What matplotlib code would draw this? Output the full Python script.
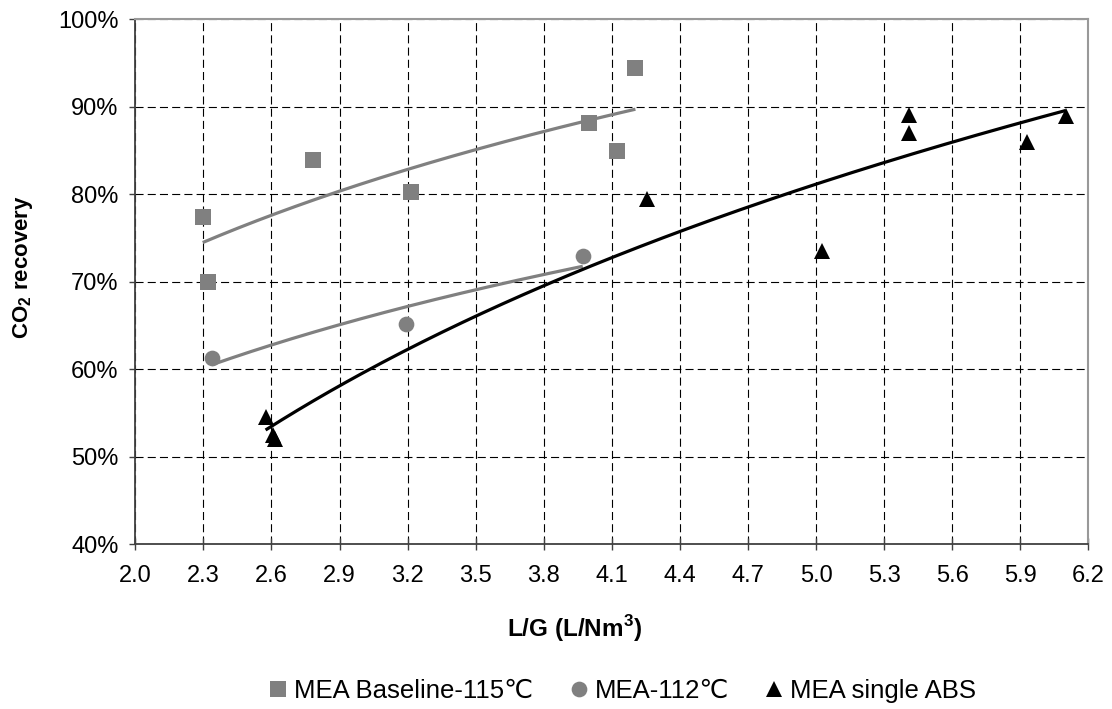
import numpy as np
import matplotlib
matplotlib.use("Agg")
import matplotlib.pyplot as plt
from matplotlib.lines import Line2D

plt.rcParams['font.family'] = ['Liberation Sans', 'DejaVu Sans']
plt.rcParams['mathtext.fontset'] = 'custom'
plt.rcParams['mathtext.rm'] = 'Liberation Sans'
plt.rcParams['mathtext.bf'] = 'Liberation Sans:bold'
plt.rcParams['lines.scale_dashes'] = False

# ---- data (L/G, CO2 recovery %) ----
base_x = [2.297, 2.322, 2.782, 3.216, 3.999, 4.124, 4.204]
base_y = [77.4, 70.0, 83.9, 80.2, 88.1, 84.9, 94.4]

mea112_x = [2.337, 3.193, 3.972]
mea112_y = [61.3, 65.2, 72.9]

single_x = [2.574, 2.605, 2.615, 4.257, 5.028, 5.409, 5.409, 5.928, 6.100]
single_y = [54.5, 52.5, 52.0, 79.5, 73.5, 89.05, 87.0, 86.0, 88.9]

labels = ['MEA Baseline-115℃', 'MEA-112℃', 'MEA single ABS']
x_ticks = [2.0, 2.3, 2.6, 2.9, 3.2, 3.5, 3.8, 4.1, 4.4, 4.7, 5.0, 5.3, 5.6, 5.9, 6.2]
y_ticks = [40, 50, 60, 70, 80, 90, 100]

grey = '#808080'

fig = plt.figure(figsize=(11.12, 7.09), dpi=100)
ax = fig.add_axes([0.1217, 0.2324, 0.857, 0.7405])


def log_trend(xs, ys):
    xs = np.asarray(xs, float)
    ys = np.asarray(ys, float)
    a, b = np.polyfit(np.log(xs), ys, 1)
    xx = np.linspace(xs.min(), xs.max(), 200)
    return xx, a * np.log(xx) + b


series = [
    (base_x, base_y, 's', grey, grey),
    (mea112_x, mea112_y, 'o', grey, grey),
    (single_x, single_y, '^', 'black', 'black'),
]

for xs, ys, m, mc, lc in series:
    xx, yy = log_trend(xs, ys)
    ax.plot(xx, yy, color=lc, lw=2.3, zorder=3, solid_capstyle='butt')

for xs, ys, m, mc, lc in series:
    ax.plot(xs, ys, linestyle='none', marker=m, ms=11.3, color=mc,
            markeredgewidth=0, zorder=4, clip_on=False)

ax.set_xlim(2.0, 6.2)
ax.set_ylim(40, 100)
ax.set_xticks(x_ticks)
ax.set_xticklabels([f'{v:.1f}' for v in x_ticks])
ax.set_yticks(y_ticks)
ax.set_yticklabels([f'{v}%' for v in y_ticks])

ax.grid(True, color='black', lw=0.8, linestyle=(0, (5.8, 3.0)))
ax.set_axisbelow(True)

for s in ['left', 'bottom']:
    ax.spines[s].set_color('#404040')
    ax.spines[s].set_linewidth(1.3)
for s in ['top', 'right']:
    ax.spines[s].set_color('#999999')
    ax.spines[s].set_linewidth(1.5)

ax.tick_params(axis='x', direction='inout', length=9, width=1.0,
               color='#404040', labelsize=17, pad=10.5)
ax.tick_params(axis='y', direction='out', length=4, width=1.0,
               color='#404040', labelsize=17, pad=8)

fig.text(575 / 1112, 1 - 629 / 709, r'L/G (L/Nm$^{\mathbf{3}}$)',
         ha='center', va='center', fontsize=17.5, fontweight='bold')
fig.text(23 / 1112, 1 - 267 / 709, r'CO$_{\mathbf{2}}$ recovery',
         ha='center', va='center', fontsize=16, fontweight='bold',
         rotation=90)

handles = [Line2D([], [], linestyle='none', marker=m, ms=11.3, color=mc,
                  markeredgewidth=0) for _, _, m, mc, _ in series]
fig.legend(handles, labels, ncol=3, loc='center',
           bbox_to_anchor=(622 / 1112, 1 - 691 / 709), frameon=False,
           fontsize=18.5, handlelength=0.8, handletextpad=0.22,
           columnspacing=1.36, borderpad=0, borderaxespad=0)

fig.savefig('out.png', dpi=100)
